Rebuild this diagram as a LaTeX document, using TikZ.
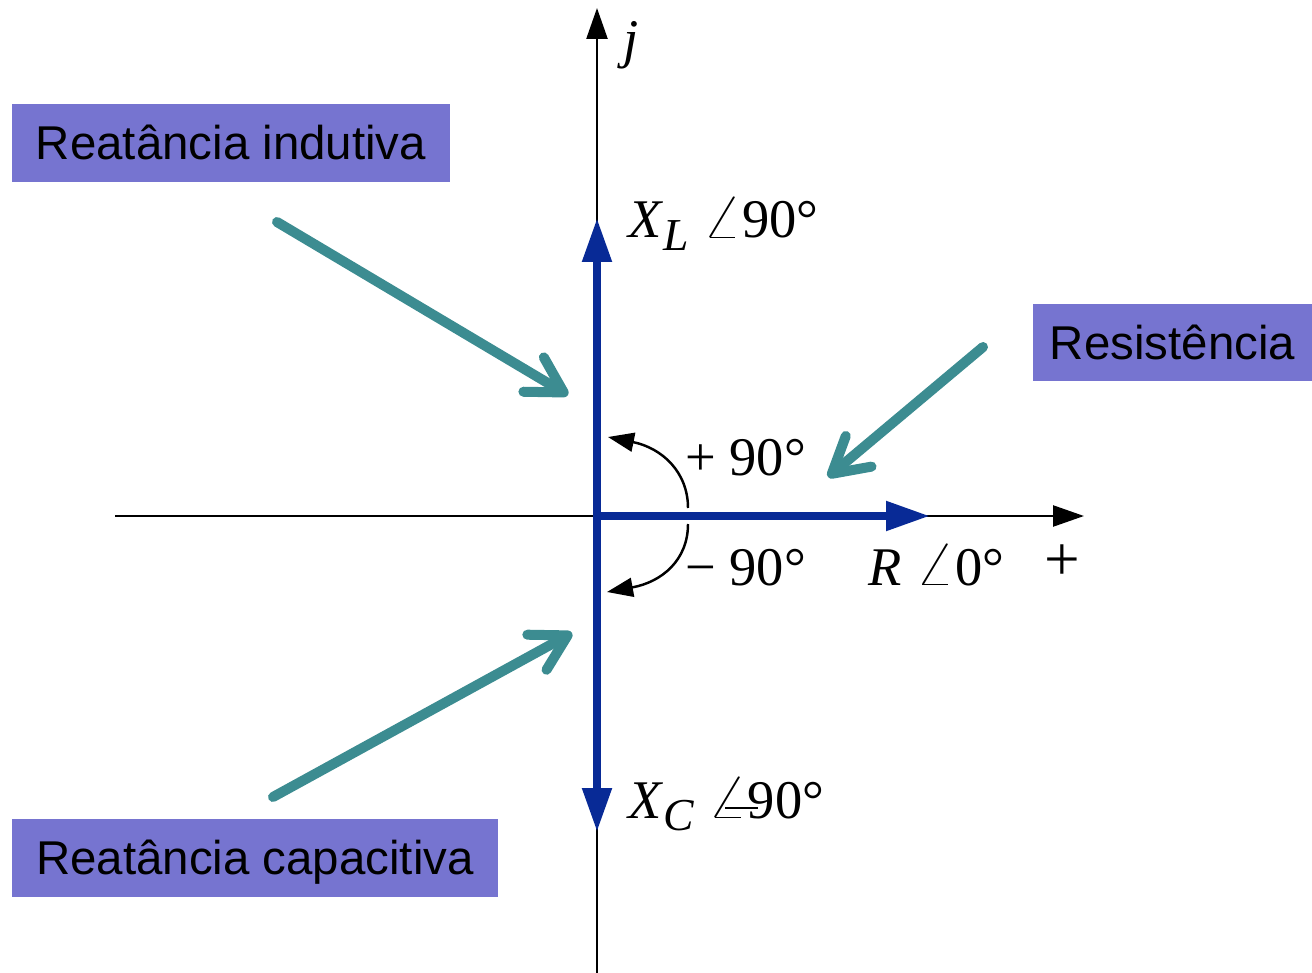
\documentclass[tikz,border=0pt]{standalone}
\usepackage{fontspec}
\setmainfont{Liberation Serif}
\setsansfont{Liberation Sans}
\usetikzlibrary{arrows.meta,positioning}
\definecolor{vecblue}{RGB}{8,42,150}
\definecolor{callout}{RGB}{60,140,145}
\definecolor{tagfill}{RGB}{118,116,208}
\newcommand{\ang}{\resizebox{0.8cm}{0.8cm}{$\angle$}}
\tikzset{
  tag/.style={fill=tagfill, minimum height=1.56cm, inner xsep=0pt,
    font=\sffamily\fontsize{27}{32}\selectfont, text height=19.3pt, text depth=0pt},
  lbl/.style={anchor=base west, inner sep=0pt, font=\fontsize{31}{36}\selectfont},
  pointer/.style={callout, line width=5.7pt, line cap=round,
    -{Straight Barb[length=0.7cm, width=0.8cm, round]}},
  vec/.style={vecblue, line width=4.6pt, -{Triangle[length=0.88cm, width=0.56cm]}},
  axis/.style={line width=1.4pt, -{Triangle[length=0.62cm, width=0.42cm]}},
  swing/.style={line width=1.4pt, -{Triangle[length=0.52cm, width=0.38cm]}}
}
\begin{document}
\begin{tikzpicture}[x=0.02cm, y=-0.02cm]
  \useasboundingbox (0,0) rectangle (1312,973);
  % axes
  \coordinate (O) at (597,516);
  \coordinate (xneg) at (115,516);
  \coordinate (xpos) at (1084,516);
  \coordinate (ybot) at (597,973);
  \coordinate (ytop) at (597,8);
  \draw[axis] (xneg) -- (xpos);
  \draw[axis] (ybot) -- (ytop);
  % phasors
  \coordinate (XL) at (597,218);
  \coordinate (XC) at (597,832);
  \coordinate (R) at (930,516);
  \draw[vec] (O) -- (XL);
  \draw[vec] (O) -- (XC);
  \draw[vec] (O) -- (R);
  % angle swings
  \coordinate (up0) at (688,508);
  \coordinate (up1) at (608,437);
  \coordinate (dn0) at (688,524);
  \coordinate (dn1) at (607,592);
  \draw[swing] (up0) .. controls (688,472) and (662,448) .. (up1);
  \draw[swing] (dn0) .. controls (688,560) and (662,582) .. (dn1);
  % labels
  \node[lbl] (jlbl) at (623,58) {\textit{j}};
  \node[lbl] (xllbl) at (628,238) {\textit{X}\raisebox{-7pt}{\fontsize{26}{26}\selectfont\textit{L}} \ang90°};
  \node[lbl] (xclbl) at (628,818) {\textit{X}\raisebox{-7pt}{\fontsize{26}{26}\selectfont\textit{C}} \ang90°};
  \draw[line width=1.4pt] (725,808) -- (758,808);
  \node[lbl] (pos) at (685,475) {+ 90°};
  \node[lbl] (neg) at (685,585) {− 90°};
  \node[lbl] (rlbl) at (868,585) {\textit{R} \ang0°};
  \node[lbl, anchor=center, font=\fontsize{36}{40}\selectfont] (plus) at (1062,563) {+};
  % callouts
  \node[tag, minimum width=8.76cm] (ind) at (231,143) {Reatância indutiva};
  \node[tag, minimum width=5.58cm] (res) at (1172.5,342.5) {Resistência};
  \node[tag, minimum width=9.72cm] (cap) at (255,858) {Reatância capacitiva};
  \coordinate (indfrom) at (277,222);
  \coordinate (indto) at (568,395);
  \coordinate (resfrom) at (983,347);
  \coordinate (resto) at (828,477);
  \coordinate (capfrom) at (273,797);
  \coordinate (capto) at (572,633);
  \draw[pointer] (indfrom) -- (indto);
  \draw[pointer] (resfrom) -- (resto);
  \draw[pointer] (capfrom) -- (capto);
\end{tikzpicture}
\end{document}
